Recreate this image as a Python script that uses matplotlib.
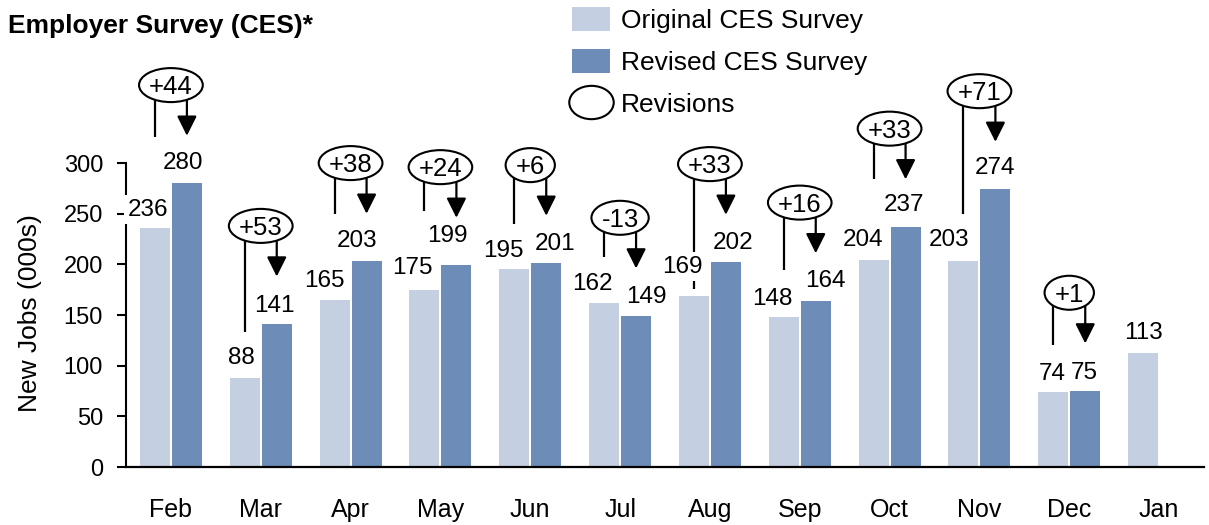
import numpy as np
import matplotlib
matplotlib.use('Agg')
import matplotlib.pyplot as plt
from matplotlib.patches import Ellipse, Patch
from matplotlib.lines import Line2D
from matplotlib.path import Path
from matplotlib.transforms import Affine2D

plt.rcParams['font.family'] = ['Liberation Sans', 'DejaVu Sans']

months = ['Feb', 'Mar', 'Apr', 'May', 'Jun', 'Jul', 'Aug', 'Sep', 'Oct', 'Nov', 'Dec', 'Jan']
original = [236, 88, 165, 175, 195, 162, 169, 148, 204, 203, 74, 113]
revised = [280, 141, 203, 199, 201, 149, 202, 164, 237, 274, 75]
revisions = ['+44', '+53', '+38', '+24', '+6', '-13', '+33', '+16', '+33', '+71', '+1']
# where the left leader line (from the bubble to the original bar) stops
line_end = [326, 133, 250, 253, 240, 207, 176, 194, 284, 250, 120]

# label nudges in pixels: sideways shift and height of the digits' centre above the bar
orig_dx = [-7, -3, -10, -12, -11, -12, -12, -11, -11, -14, -1, 0]
rev_dx = [-4, -2, -10, -9, 9, 10, 7, 10, -2, 0, -1]
orig_dy = [21, 23, 22, 24, 21, 22, 32, 21, 23, 24, 21, 22]
rev_dy = [23, 21, 23, 32, 22, 22, 22, 23, 25, 24, 21]

c_orig = '#C4CFE2'
c_rev = '#6D8CB8'

W, H = 1209, 525
fig = plt.figure(figsize=(W / 100, H / 100), dpi=100)
ax = fig.add_axes([126 / W, 58 / H, 1078 / W, 467 / H])

x = np.arange(len(months))
off = 0.178
bw = 0.333
ax.bar(x - off, original, bw, color=c_orig, zorder=2)
ax.bar(x[:len(revised)] + off, revised, bw, color=c_rev, zorder=2)

ax.set_xlim(-0.5, 11.5)
ax.set_ylim(0, 461)
ax.set_yticks(range(0, 301, 50))
ax.set_xticks(x)
ax.set_xticklabels(months)
ax.tick_params(axis='y', length=6.5, width=1.5, pad=10, labelsize=17)
ax.tick_params(axis='x', length=0, pad=22, labelsize=18)
for s in ['top', 'right']:
    ax.spines[s].set_visible(False)
ax.spines['left'].set_bounds(0, 300)
ax.spines['left'].set_linewidth(1.5)
ax.spines['bottom'].set_linewidth(1.6)

px_x = 1078 / 12.0
px_y = 467 / 461.0
pt = 0.72  # points per pixel at 100 dpi

lab_fs = 17.5
cap = 0.716 * lab_fs
box = dict(boxstyle='square,pad=0.15', fc='white', ec='none')
for i, v in enumerate(original):
    ax.annotate(str(v), xy=(i - off, v), xytext=(orig_dx[i] * pt, orig_dy[i] * pt - cap / 2),
                textcoords='offset points', ha='center', va='baseline', fontsize=lab_fs,
                bbox=box, zorder=6, annotation_clip=False)
for i, v in enumerate(revised):
    ax.annotate(str(v), xy=(i + off, v), xytext=(rev_dx[i] * pt, rev_dy[i] * pt - cap / 2),
                textcoords='offset points', ha='center', va='baseline', fontsize=lab_fs,
                bbox=box, zorder=6)

# revision bubbles with leader line and arrow
rv_fs = 18.5
texts = []
for i, r in enumerate(revisions):
    centre = revised[i] + 97
    tip = revised[i] + 47
    ax.plot([i - off, i - off], [centre, line_end[i]], color='black', lw=1.6, zorder=3,
            solid_capstyle='butt')
    ax.annotate('', xy=(i + off, tip), xytext=(i + off, centre),
                arrowprops=dict(arrowstyle='-|>', color='black', lw=1.6, mutation_scale=30,
                                shrinkA=0, shrinkB=0), zorder=3)
    t = ax.annotate(r, xy=(i, centre), xytext=(0, -0.716 * rv_fs / 2), textcoords='offset points',
                    ha='center', va='baseline', fontsize=rv_fs, zorder=5)
    texts.append(t)

fig.canvas.draw()
renderer = fig.canvas.get_renderer()
for i, t in enumerate(texts):
    bb = t.get_window_extent(renderer)
    ax.add_patch(Ellipse((i, revised[i] + 97), (bb.width + 20) / px_x, 34 / px_y,
                         facecolor='white', edgecolor='black', lw=1.5, zorder=4))

fig.text(8 / W, 1 - 33.3 / H, 'Employer Survey (CES)*', fontsize=19, fontweight='bold',
         ha='left', va='baseline')
fig.text(30 / W, 1 - 313 / H, 'New Jobs (000s)', fontsize=19, rotation=90,
         ha='center', va='center')

ell = Path.unit_circle().transformed(Affine2D().scale(1.0, 0.75))
handles = [Patch(facecolor=c_orig, edgecolor='none'),
           Patch(facecolor=c_rev, edgecolor='none'),
           Line2D([], [], ls='none', marker=ell, markersize=32, mfc='white', mec='black', mew=1.5)]
ax.legend(handles, ['Original CES Survey', 'Revised CES Survey', 'Revisions'],
          loc='upper left', bbox_to_anchor=(572 / W, 1 - 7 / H), bbox_transform=fig.transFigure,
          frameon=False, borderpad=0, borderaxespad=0, fontsize=19, handlelength=1.44,
          handleheight=1.02, handletextpad=0.42, labelspacing=0.61)

fig.savefig('out.png', dpi=100)
